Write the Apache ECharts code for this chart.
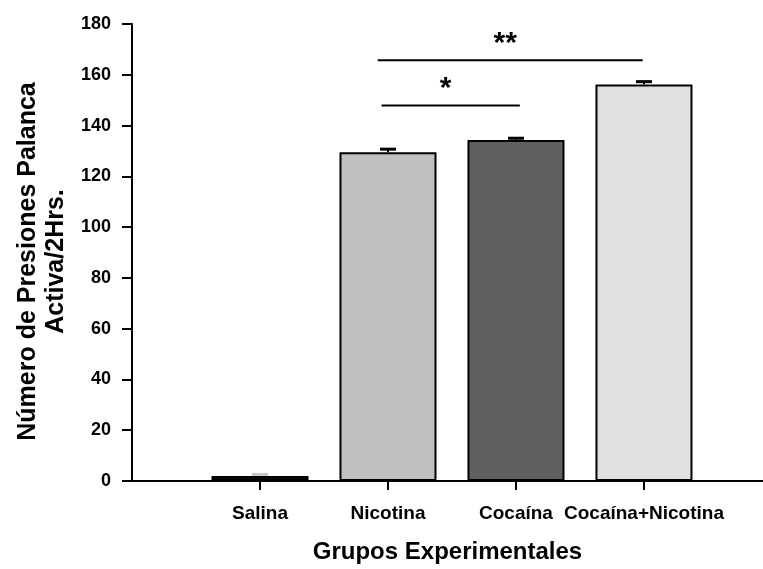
<!DOCTYPE html>
<html>
<head>
<meta charset="utf-8">
<script src="https://cdn.jsdelivr.net/npm/echarts@6/dist/echarts.min.js"></script>
<style>
  html, body { margin: 0; padding: 0; background: #fff; }
  #chart { width: 763px; height: 569px; }
</style>
</head>
<body>
<div id="chart"></div>
<script>
// Groups, mean active-lever presses per 2 h, and standard error
const categories = ['Salina', 'Nicotina', 'Cocaína', 'Cocaína+Nicotina'];
const groupPos = [1, 2, 3, 4];
const means = [2, 129.5, 134.3, 156.2];
const sem = [0.6, 1.2, 0.7, 1.1];

// Significance brackets (x in group units, y in presses)
const sigFrom = [1.95, 1.92];
const sigTo = [3.03, 3.99];
const sigLevel = [147.9, 165.7];
const sigMarks = ['*', '**'];

const yTicks = [0, 20, 40, 60, 80, 100, 120, 140, 160, 180];

const fills = ['#0c0c0c', '#c0c0c0', '#606060', '#e0e0e0'];
const capColors = ['#c8c8c8', '#000', '#000', '#000'];
const FONT = '"Liberation Sans", Arial, sans-serif';

const chart = echarts.init(document.getElementById('chart'), null, { renderer: 'canvas' });

const barData = groupPos.map((x, i) => ({
  value: [x, means[i]],
  itemStyle: { color: fills[i] }
}));
const errData = groupPos.map((x, i) => [x, means[i], sem[i], i]);
const sigData = sigFrom.map((f, i) => [f, sigTo[i], sigLevel[i], i]);

chart.setOption({
  animation: false,
  backgroundColor: '#fff',
  grid: { left: 132, right: 0, top: 24, bottom: 86, containLabel: false },
  xAxis: {
    type: 'value',
    min: 0,
    max: 4.93,
    splitLine: { show: false },
    axisLine: { show: true, onZero: false, lineStyle: { color: '#000', width: 2 } },
    axisTick: { show: true, customValues: groupPos, length: 9, lineStyle: { color: '#000', width: 2 } },
    axisLabel: {
      customValues: groupPos,
      formatter: v => categories[groupPos.indexOf(v)] || '',
      color: '#000', fontFamily: FONT, fontWeight: 'bold', fontSize: 19, margin: 23
    },
    name: 'Grupos Experimentales',
    nameLocation: 'middle',
    nameGap: 59,
    nameTextStyle: { color: '#000', fontFamily: FONT, fontWeight: 'bold', fontSize: 24 }
  },
  yAxis: {
    type: 'value',
    min: 0,
    max: 180,
    interval: 20,
    splitLine: { show: false },
    axisLine: { show: true, lineStyle: { color: '#000', width: 2 } },
    axisTick: { show: true, length: 10, lineStyle: { color: '#000', width: 2 } },
    axisLabel: {
      formatter: v => (yTicks.includes(v) ? String(v) : ''),
      color: '#000', fontFamily: FONT, fontWeight: 'bold', fontSize: 18, margin: 21
    },
    name: 'Número de Presiones Palanca\nActiva/2Hrs.',
    nameLocation: 'middle',
    nameGap: 61,
    nameTextStyle: {
      color: '#000', fontFamily: FONT, fontWeight: 'bold', fontSize: 25, lineHeight: 28,
      align: 'center', padding: [0, 18, 0, 0]
    }
  },
  series: [
    {
      type: 'bar',
      data: barData,
      barWidth: 97,
      itemStyle: { borderColor: '#000', borderWidth: 2 },
      z: 2
    },
    {
      type: 'custom',
      data: errData,
      z: 3,
      renderItem: (params, api) => {
        const x = api.value(0), m = api.value(1), e = api.value(2), i = api.value(3);
        const base = api.coord([x, m]);
        const top = api.coord([x, m + e]);
        const col = capColors[i];
        return {
          type: 'group',
          children: [
            { type: 'line', shape: { x1: base[0], y1: base[1], x2: top[0], y2: top[1] }, style: { stroke: col, lineWidth: 2 } },
            { type: 'line', shape: { x1: top[0] - 8, y1: top[1], x2: top[0] + 8, y2: top[1] }, style: { stroke: col, lineWidth: 3 } }
          ]
        };
      }
    },
    {
      type: 'custom',
      data: sigData,
      z: 3,
      renderItem: (params, api) => {
        const a = api.coord([api.value(0), api.value(2)]);
        const b = api.coord([api.value(1), api.value(2)]);
        const mark = sigMarks[api.value(3)];
        return {
          type: 'group',
          children: [
            { type: 'line', shape: { x1: a[0], y1: a[1], x2: b[0], y2: b[1] }, style: { stroke: '#000', lineWidth: 2 } },
            {
              type: 'text',
              x: (a[0] + b[0]) / 2 - 5,
              y: a[1] - 17,
              style: { text: mark, fill: '#000', font: 'bold 30px ' + FONT, align: 'center', verticalAlign: 'middle' }
            }
          ]
        };
      }
    }
  ]
});
</script>
</body>
</html>
